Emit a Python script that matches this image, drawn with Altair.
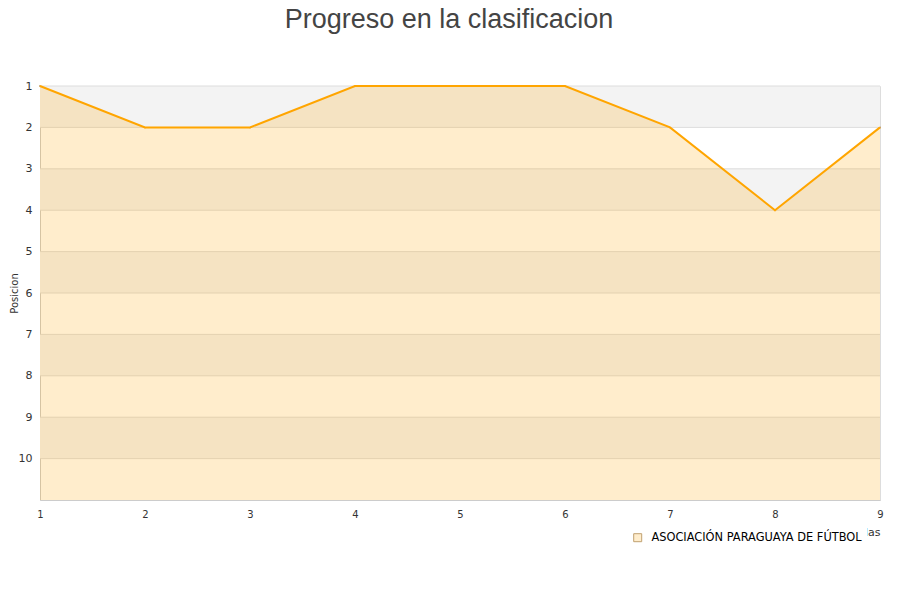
import altair as alt
import pandas as pd

# ---- data ----
jornadas = [1, 2, 3, 4, 5, 6, 7, 8, 9]
posiciones = [1, 2, 2, 1, 1, 1, 2, 4, 2]
equipo = "ASOCIACIÓN PARAGUAYA DE FÚTBOL"
y_ticks = [1, 2, 3, 4, 5, 6, 7, 8, 9, 10]
x_ticks = [1, 2, 3, 4, 5, 6, 7, 8, 9]
y_min, y_max = 1, 11

df = pd.DataFrame({
    "jornada": jornadas,
    "posicion": posiciones,
    "equipo": [equipo] * len(jornadas),
    "fondo": [y_max] * len(jornadas),
})
band_starts = y_ticks[::2]
bands = pd.DataFrame({"desde": band_starts, "hasta": [b + 1 for b in band_starts]})
grid = pd.DataFrame({"tick": y_ticks})

FONT = "DejaVu Sans"
xscale = alt.Scale(domain=[x_ticks[0], x_ticks[-1]], nice=False, zero=False)
yscale = alt.Scale(domain=[y_min, y_max], reverse=True, nice=False, zero=False)

xaxis = alt.Axis(values=x_ticks, title="Jornadas", grid=False, ticks=False,
                 labelFont=FONT, labelFontSize=10, labelColor="#333",
                 labelPadding=9, labelFlush=False, domainColor="#cccccc",
                 titleFont=FONT, titleFontSize=11, titleFontWeight="normal",
                 titleColor="#333", titleAnchor="end", titlePadding=7)
yaxis = alt.Axis(values=y_ticks, title="Posicion", grid=False, ticks=False,
                 labelFont=FONT, labelFontSize=11, labelColor="#333",
                 labelPadding=8, domainColor="#cccccc",
                 titleFont=FONT, titleFontSize=10, titleFontWeight="normal",
                 titleColor="#333", titleX=-21)

X = lambda f: alt.X(f, scale=xscale, axis=xaxis)
Y = lambda f: alt.Y(f, scale=yscale, axis=yaxis)

# legend carrier (hidden beneath the line)
legend_layer = alt.Chart(df).mark_point(shape="square", filled=True, size=1,
                                         opacity=1, stroke="#c0a070", strokeWidth=1).encode(
    x=X("jornada:Q"), y=Y("posicion:Q"),
    color=alt.Color("equipo:N", scale=alt.Scale(range=["#ffedcc"]),
                    legend=alt.Legend(title=None, orient="none", legendX=587, legendY=441,
                                      fillColor="white", padding=5,
                                      symbolType="square", symbolSize=64,
                                      symbolStrokeColor="#c0a070", symbolStrokeWidth=1,
                                      labelFont=FONT, labelFontSize=11.4, labelColor="#000",
                                      labelOffset=8, labelLimit=400)),
)

band_layer = alt.Chart(bands).mark_rect(color="#f3f3f3").encode(
    x=alt.datum(x_ticks[0], scale=xscale, axis=xaxis), x2=alt.datum(x_ticks[-1]),
    y=Y("desde:Q"), y2="hasta:Q",
)

grid_layer = alt.Chart(grid).mark_rule(color="#dddddd", strokeWidth=1).encode(
    x=alt.datum(x_ticks[0], scale=xscale, axis=xaxis), x2=alt.datum(x_ticks[-1]),
    y=Y("tick:Q"),
)

area_layer = alt.Chart(df).mark_area(color="#ffa500", opacity=0.2).encode(
    x=X("jornada:Q"), y=Y("posicion:Q"), y2="fondo:Q",
)

line_layer = alt.Chart(df).mark_line(color="#ffa500", strokeWidth=2).encode(
    x=X("jornada:Q"), y=Y("posicion:Q"),
)

chart = alt.layer(legend_layer, band_layer, grid_layer, area_layer, line_layer).properties(
    width=840, height=414,
    autosize=alt.AutoSizeParams(type="none"),
    padding={"left": 32, "top": 78, "right": 12, "bottom": 90},
    title=alt.TitleParams("Progreso en la clasificacion", font="Liberation Sans",
                          fontSize=27, fontWeight="normal", color="#444",
                          anchor="middle", offset=46, dx=-11),
).configure_view(stroke="#dddddd")

chart.save("out.html", embed_options={"renderer": "svg", "actions": False})
